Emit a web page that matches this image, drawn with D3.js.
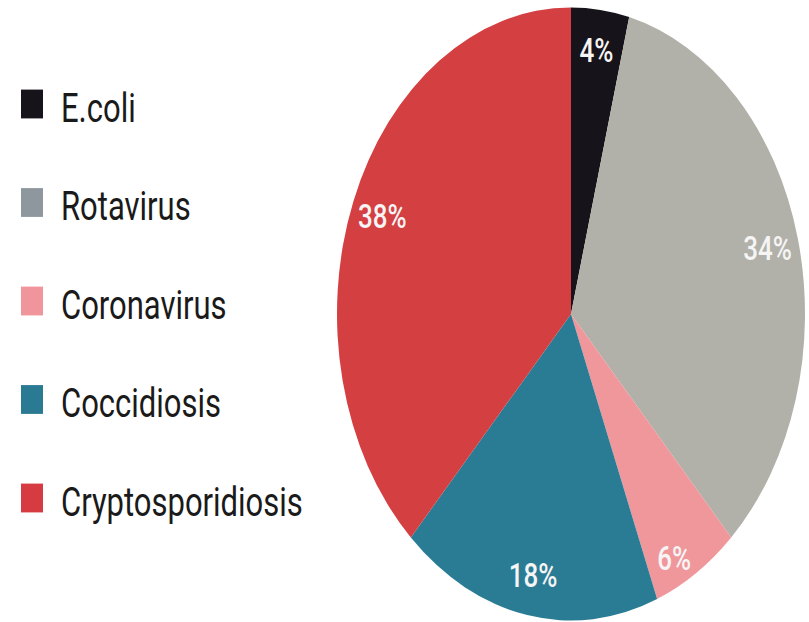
<!DOCTYPE html>
<html>
<head>
    <meta charset="utf-8">
    <title>Pie chart</title>
    <script src="https://d3js.org/d3.v7.min.js"></script>
    <style>
        body { margin: 0; background: #fff; }
        text { font-family: Roboto, "Liberation Sans", sans-serif; }
    </style>
</head>
<body>
    <svg width="809" height="622"></svg>
    <script>
        // Data
        const categories = ["E.coli", "Rotavirus", "Coronavirus", "Coccidiosis", "Cryptosporidiosis"];
        const values = [4, 34, 6, 18, 38];
        const sliceColors = ["#16141a", "#b1b1a9", "#f0979c", "#2a7c95", "#d43f42"];
        const legendColors = ["#16141a", "#8f979e", "#f0959b", "#2b7a94", "#d63b41"];

        const data = categories.map((name, i) => ({ name, value: values[i] }));

        // Layout: the reference is stretched vertically
        const svg = d3.select("svg");
        const cx = 571, cy = 314, r = 234, k = 1.31;

        const pie = d3.pie().sort(null).value(d => d.value);
        const arcs = pie(data);
        const arc = d3.arc().innerRadius(0).outerRadius(r);

        const g = svg.append("g")
            .attr("transform", `translate(${cx},${cy}) scale(1,${k})`);

        g.selectAll("path.slice")
            .data(arcs)
            .enter()
            .append("path")
            .attr("class", "slice")
            .attr("d", arc)
            .attr("fill", (d, i) => sliceColors[i]);

        // Labels (the small pink slice has its label nudged toward the bottom)
        const small = d => d.data.name === "Coronavirus";
        g.selectAll("text.pct")
            .data(arcs)
            .enter()
            .append("text")
            .attr("class", "pct")
            .attr("transform", d => {
                const a = (d.startAngle + d.endAngle) / 2 + (small(d) ? 0.06 : 0);
                const p = d3.pointRadial(a, small(d) ? 213 : 203);
                return `translate(${p[0]},${p[1]})`;
            })
            .attr("dy", "0.36em")
            .attr("text-anchor", "middle")
            .attr("fill", "#f6f4f4")
            .attr("font-size", 26)
            .attr("font-weight", 500)
            .text(d => d.data.value + "%");

        // Legend
        const legendY = d3.scalePoint().domain(categories).range([104, 498]);
        const item = svg.selectAll("g.legend")
            .data(data)
            .enter()
            .append("g")
            .attr("class", "legend")
            .attr("transform", d => `translate(0,${legendY(d.name)}) scale(1,${k})`);

        item.append("rect")
            .attr("x", 21)
            .attr("y", -11)
            .attr("width", 22)
            .attr("height", 22)
            .attr("fill", (d, i) => legendColors[i]);

        item.append("text")
            .attr("x", 61)
            .attr("y", 13.5)
            .attr("fill", "#1a1a1a")
            .attr("font-size", 31)
            .text(d => d.name);
    </script>
</body>
</html>
